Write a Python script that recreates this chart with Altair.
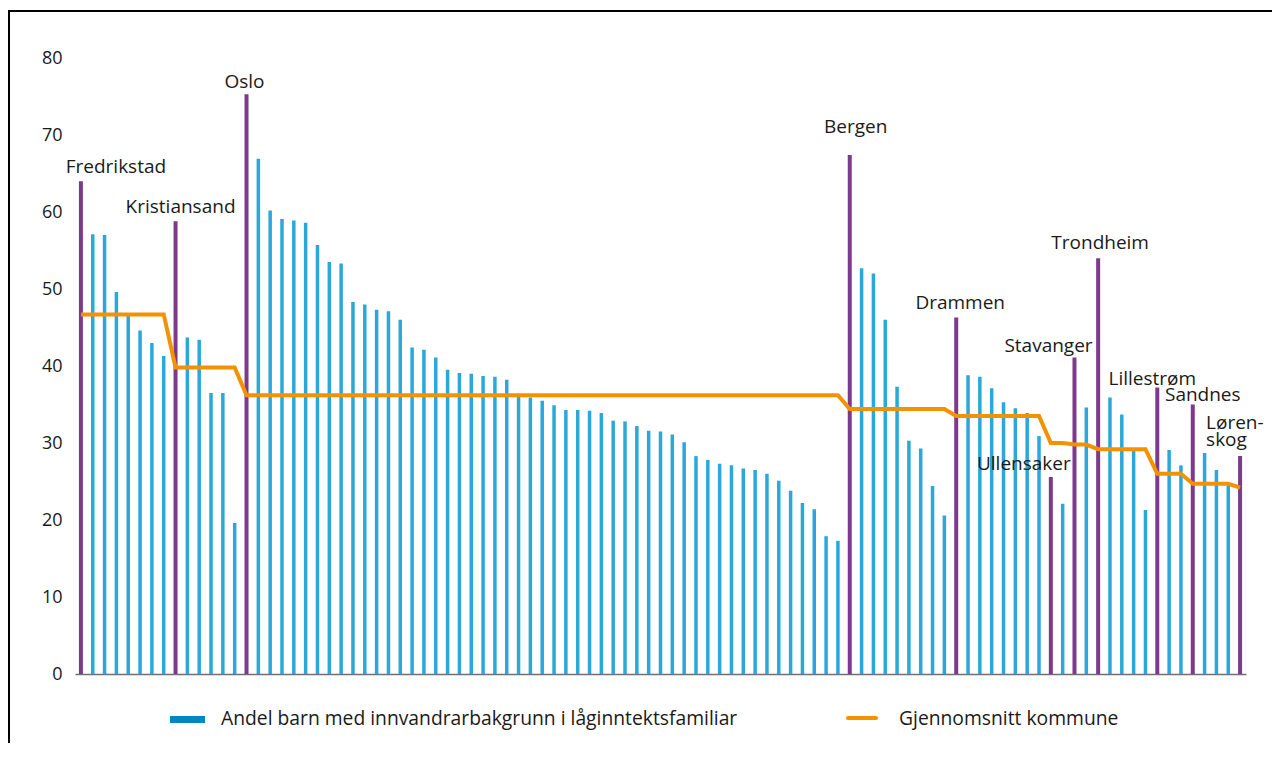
import altair as alt
import pandas as pd

# ---------------- data ----------------
kommunar = ["Fredrikstad", "Kristiansand", "Oslo", "Bergen", "Drammen", "Ullensaker",
            "Stavanger", "Trondheim", "Lillestrøm", "Sandnes", "Lørenskog"]
etikettar = ["Fredrikstad", "Kristiansand", "Oslo", "Bergen", "Drammen", "Ullensaker",
             "Stavanger", "Trondheim", "Lillestrøm", "Sandnes", "Løren-\nskog"]
snitt_kommune = [46.7, 39.8, 36.2, 34.4, 33.5, 30.0, 29.8, 29.2, 26.0, 24.7, 24.2]

# first value in each list = the municipality itself, the rest = its districts
fredrikstad = [64.0, 57.1, 57.0, 49.6, 46.5, 44.6, 43.0, 41.3]
kristiansand = [58.8, 43.7, 43.4, 36.5, 36.5, 19.6]
oslo = [75.3, 66.9, 60.2, 59.1, 58.9, 58.6, 55.7, 53.5, 53.3, 48.3, 48.0, 47.3, 47.1,
        46.0, 42.4, 42.1, 41.1, 39.5, 39.1, 39.0, 38.7, 38.6, 38.2, 36.0, 35.9, 35.5,
        34.9, 34.3, 34.3, 34.2, 33.9, 32.9, 32.8, 32.2, 31.6, 31.5, 31.1, 30.1, 28.3,
        27.8, 27.3, 27.1, 26.7, 26.5, 26.0, 25.1, 23.8, 22.2, 21.4, 17.9, 17.3]
bergen = [67.4, 52.7, 52.0, 46.0, 37.3, 30.3, 29.3, 24.4, 20.6]
drammen = [46.3, 38.8, 38.6, 37.1, 35.3, 34.5, 33.9, 30.9]
ullensaker = [25.6, 22.1]
stavanger = [41.1, 34.6]
trondheim = [54.0, 35.9, 33.7, 29.0, 21.3]
lillestrom = [37.2, 29.1, 27.1]
sandnes = [35.0, 28.7, 26.5, 24.5]
lorenskog = [28.3]

verdiar = [fredrikstad, kristiansand, oslo, bergen, drammen, ullensaker, stavanger,
           trondheim, lillestrom, sandnes, lorenskog]

legend_labels = ["Andel barn med innvandrarbakgrunn i låginntektsfamiliar", "Gjennomsnitt kommune"]
y_ticks = [0, 10, 20, 30, 40, 50, 60, 70, 80]

rows = []
i = 0
for k, lab, avg, vals in zip(kommunar, etikettar, snitt_kommune, verdiar):
    for j, v in enumerate(vals):
        rows.append({"i": i, "value": v, "kind": "kommune" if j == 0 else "bydel",
                     "group": k, "avg": avg, "label": lab if j == 0 else ""})
        i += 1
df = pd.DataFrame(rows)

# ---------------- style / layout ----------------
FONT = "Open Sans"
BLUE = "#2ba8d9"
PURPLE = "#7d3a8d"
ORANGE = "#f39200"
LEG_BLUE = "#0086c3"
TEXT = "#1a1a1a"
W, H = 1171, 616

# (dx, dy, align) of each municipality label relative to its bar top
label_offsets = {
    "Fredrikstad": (35, -14, "center"), "Kristiansand": (5, -14, "center"),
    "Oslo": (-2, -12, "center"), "Bergen": (6, -28, "center"),
    "Drammen": (4, -14, "center"), "Ullensaker": (-27, -13, "center"),
    "Stavanger": (-26, -12, "center"), "Trondheim": (2, -15, "center"),
    "Lillestrøm": (-5, -9, "center"), "Sandnes": (10, -10, "center"),
    "Lørenskog": (-34, -33, "left"),
}

x_enc = alt.X("i:O", scale=alt.Scale(paddingInner=0, paddingOuter=0),
              axis=alt.Axis(labels=False, ticks=False, title=None, grid=False,
                            domainColor="#707070", domainWidth=1.5))
y_enc = alt.Y("value:Q", scale=alt.Scale(domain=[0, 80], nice=False),
              axis=alt.Axis(values=y_ticks, domain=False, ticks=False, grid=False, title=None,
                            labelPadding=13, labelFontSize=18, labelColor=TEXT,
                            labelFont=FONT))

bars = alt.Chart(df).mark_bar().encode(
    x=x_enc,
    y=y_enc,
    color=alt.Color("kind:N", scale=alt.Scale(domain=["kommune", "bydel"], range=[PURPLE, BLUE]),
                    legend=None),
    size=alt.condition(alt.datum.kind == "kommune", alt.value(4), alt.value(3.5)),
)

line = alt.Chart(df).mark_line(color=ORANGE, strokeWidth=4).encode(
    x="i:O", y=alt.Y("avg:Q"))

texts = []
for k in kommunar:
    dx, dy, al = label_offsets[k]
    texts.append(
        alt.Chart(df).transform_filter(
            (alt.datum.group == k) & (alt.datum.kind == "kommune")
        ).mark_text(font=FONT, fontSize=19, color=TEXT, align=al, baseline="middle",
                    dx=dx, dy=dy, lineBreak="\n", lineHeight=17).encode(
            x="i:O", y="value:Q", text="label:N")
    )

one = pd.DataFrame({"a": [0]})
leg_rect = alt.Chart(one).mark_rect(color=LEG_BLUE).encode(
    x=alt.value(95), x2=alt.value(130), y=alt.value(658), y2=alt.value(665))
leg_text1 = alt.Chart(one).mark_text(font=FONT, fontSize=19.3, color=TEXT, align="left",
                                     baseline="middle", text=legend_labels[0]).encode(
    x=alt.value(146), y=alt.value(661))
leg_line = alt.Chart(one).mark_rule(color=ORANGE, strokeWidth=4, strokeCap="round").encode(
    x=alt.value(773), x2=alt.value(801), y=alt.value(660))
leg_text2 = alt.Chart(one).mark_text(font=FONT, fontSize=19.3, color=TEXT, align="left",
                                     baseline="middle", text=legend_labels[1]).encode(
    x=alt.value(824), y=alt.value(661))

frame_left = alt.Chart(one).mark_rule(color="black", strokeWidth=2).encode(
    x=alt.value(-66), y=alt.value(-47), y2=alt.value(700))
frame_top = alt.Chart(one).mark_rule(color="black", strokeWidth=2).encode(
    x=alt.value(-67), x2=alt.value(1200), y=alt.value(-47))

chart = alt.layer(bars, line, *texts, leg_rect, leg_text1, leg_line, leg_text2,
                  frame_left, frame_top).properties(
    width=W, height=H,
    autosize=alt.AutoSizeParams(type="none"),
    padding={"left": 67, "top": 50, "right": 26, "bottom": 69},
    background="white",
).configure(font=FONT, view=alt.ViewConfig(stroke=None))

chart.save("out.html", embed_options={"renderer": "svg", "actions": False})
